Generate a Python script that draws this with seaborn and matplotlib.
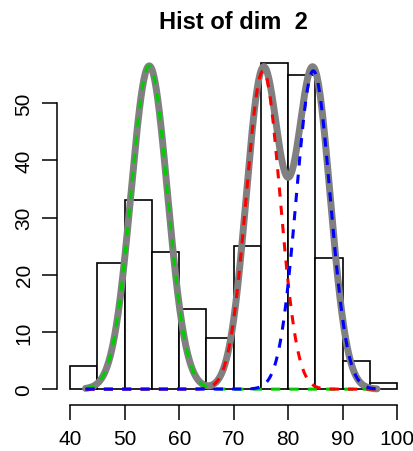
import numpy as np
import pandas as pd
import matplotlib
matplotlib.use("Agg")
import matplotlib.pyplot as plt
import seaborn as sns

# histogram counts (bins of width 5, 40..100)
bin_edges = [40, 45, 50, 55, 60, 65, 70, 75, 80, 85, 90, 95, 100]
counts = [4, 22, 33, 24, 14, 9, 25, 57, 55, 23, 5, 1]

# fitted mixture components (mean, sd, weight)
comp_names = ["green", "red", "blue"]
comp_means = [54.5, 75.4, 84.6]
comp_sds = [3.35, 3.1, 3.1]
comp_weights = [0.349, 0.318, 0.318]
comp_colors = ["#00CD00", "#FF0000", "#0000FF"]
data_min, data_max = 42.8, 96.3

n_total = sum(counts)
binw = 5

sns.set_style("white")
plt.rcParams['font.family'] = ['Liberation Sans', 'DejaVu Sans']

fig = plt.figure(figsize=(4.14, 4.52), dpi=100)
ax = fig.add_axes([0.138, 0.108, 0.853, 0.779])

centers = [(a + b) / 2 for a, b in zip(bin_edges[:-1], bin_edges[1:])]
hist_df = pd.DataFrame({"x": centers, "w": counts})
sns.histplot(data=hist_df, x="x", weights="w", bins=bin_edges, ax=ax,
             color="white", edgecolor="black", linewidth=1.2, alpha=1)

xs = np.linspace(data_min, data_max, 400)
dens = []
for m, s, w in zip(comp_means, comp_sds, comp_weights):
    dens.append(w * np.exp(-0.5 * ((xs - m) / s) ** 2) / (s * np.sqrt(2 * np.pi)) * n_total * binw)
total = np.sum(dens, axis=0)

sns.lineplot(x=xs, y=total, ax=ax, color="#808080", linewidth=5, solid_capstyle="round")
for d, c in zip(dens, comp_colors):
    sns.lineplot(x=xs, y=d, ax=ax, color=c, linewidth=2.2, linestyle=(0, (3, 3)))

ax.set_xlim(37.6, 102.4)
ax.set_ylim(-2.28, 59.28)
for sp in ["top", "right"]:
    ax.spines[sp].set_visible(False)
ax.spines["left"].set_bounds(0, 50)
ax.spines["bottom"].set_bounds(40, 100)
ax.spines["left"].set_position(("outward", 0))
ax.spines["bottom"].set_position(("outward", 2))
for sp in ["left", "bottom"]:
    ax.spines[sp].set_color("black")
    ax.spines[sp].set_linewidth(1.1)
ax.set_xticks(range(40, 101, 10))
ax.set_yticks(range(0, 51, 10))
ax.tick_params(axis="both", direction="out", length=11, width=1.1, colors="black",
               labelsize=15, bottom=True, left=True, pad=6)
plt.setp(ax.get_yticklabels(), rotation=90, va="center")
ax.set_xlabel("")
ax.set_ylabel("")
ax.set_title("Hist of dim  2", fontsize=17, fontweight="bold", pad=16, color="black")

fig.savefig("out.png", dpi=100)
